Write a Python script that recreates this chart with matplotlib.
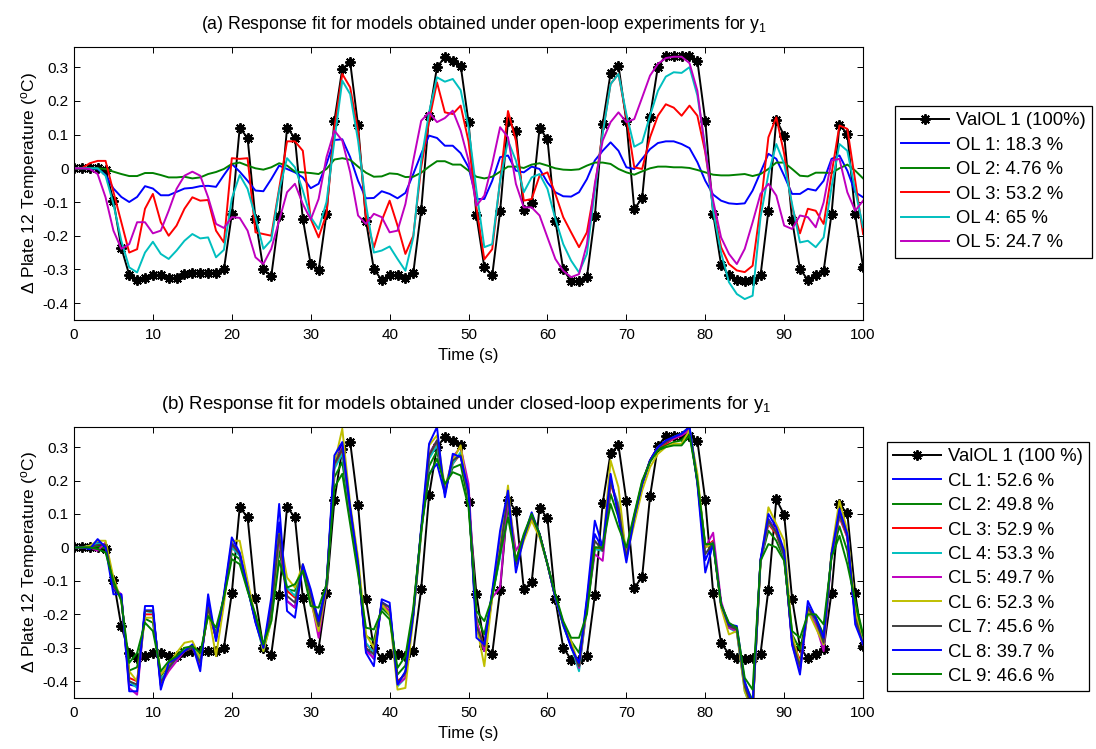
import numpy as np
import matplotlib
matplotlib.use("Agg")
import matplotlib.pyplot as plt

plt.rcParams['font.family'] = ['Liberation Sans', 'DejaVu Sans']
plt.rcParams['mathtext.default'] = 'regular'

time_s = np.arange(0, 101)

# measured validation run (ValOL 1)
val_ol1 = [0, 0, 0, 0, -0.005, -0.096, -0.236, -0.316, -0.331, -0.325,
           -0.316, -0.316, -0.325, -0.325, -0.313, -0.31, -0.31, -0.31, -0.31, -0.30,
           -0.137, 0.12, 0.09, -0.15, -0.30, -0.32, -0.143, 0.12, 0.09, -0.15,
           -0.285, -0.303, -0.135, 0.141, 0.295, 0.315, 0.127, -0.155, -0.30, -0.331,
           -0.318, -0.318, -0.325, -0.31, -0.124, 0.156, 0.30, 0.33, 0.318, 0.305,
           0.137, -0.14, -0.294, -0.318, -0.128, 0.141, 0.11, -0.124, -0.104, 0.119,
           0.087, -0.155, -0.30, -0.335, -0.335, -0.323, -0.143, 0.132, 0.282, 0.305,
           0.139, -0.121, -0.088, 0.153, 0.302, 0.334, 0.332, 0.332, 0.332, 0.318,
           0.141, -0.135, -0.286, -0.318, -0.331, -0.333, -0.331, -0.318, -0.126, 0.144,
           0.097, -0.153, -0.299, -0.331, -0.318, -0.304, -0.135, 0.129, 0.102, -0.137,
           -0.294]

# open-loop model responses
ol1 = [0, 0, 0, -0.002, -0.02, -0.06, -0.085, -0.1, -0.085, -0.053,
       -0.06, -0.08, -0.08, -0.07, -0.06, -0.058, -0.053, -0.052, -0.055, -0.02,
       0.013, -0.01, -0.037, -0.066, -0.068, -0.032, 0.008, -0.002, -0.012, -0.027,
       -0.059, -0.046, 0.013, 0.084, 0.086, 0.033, -0.037, -0.089, -0.088, -0.068,
       -0.076, -0.089, -0.073, -0.017, 0.043, 0.097, 0.09, 0.067, 0.067, 0.045,
       0.003, -0.091, -0.091, -0.037, 0.033, 0.038, -0.007, -0.012, 0.005, -0.002,
       -0.042, -0.071, -0.083, -0.084, -0.071, -0.032, 0.023, 0.052, 0.077, 0.052,
       0.003, -0.002, 0.028, 0.057, 0.075, 0.08, 0.08, 0.072, 0.06, 0.018,
       -0.037, -0.078, -0.096, -0.104, -0.106, -0.104, -0.066, -0.012, 0.043, 0.028,
       -0.022, -0.076, -0.076, -0.061, -0.066, -0.037, 0.028, 0.038, -0.007, -0.071,
       -0.086]
ol2 = [0, 0, 0, 0, -0.002, -0.01, -0.017, -0.023, -0.023, -0.014,
       -0.014, -0.02, -0.027, -0.027, -0.025, -0.03, -0.027, -0.017, -0.011, -0.002,
       0.013, 0.017, 0.008, 0.0, -0.004, 0.003, 0.015, 0.008, -0.01, -0.012,
       -0.014, -0.017, -0.002, 0.026, 0.03, 0.025, 0.005, -0.013, -0.025, -0.024,
       -0.015, -0.017, -0.026, -0.025, -0.013, 0.005, 0.021, 0.021, 0.011, 0.011,
       -0.007, -0.025, -0.03, -0.025, -0.01, 0.005, 0.005, 0.001, 0.011, 0.015,
       0.008, 0.0, -0.004, -0.005, -0.003, 0.008, 0.017, 0.017, 0.013, -0.002,
       -0.012, -0.019, -0.009, 0.0, 0.005, 0.005, 0.003, 0.003, 0.001, -0.005,
       -0.012, -0.019, -0.021, -0.021, -0.019, -0.017, -0.023, -0.017, -0.002, 0.017,
       0.017, -0.002, -0.022, -0.024, -0.013, -0.013, -0.014, 0.0, 0.011, -0.007,
       -0.03]
ol3 = [0, 0, 0.015, 0.022, 0.022, -0.07, -0.16, -0.25, -0.24, -0.12,
       -0.076, -0.16, -0.2, -0.17, -0.12, -0.086, -0.096, -0.094, -0.185, -0.22,
       0.03, 0.028, 0.03, -0.19, -0.195, -0.2, -0.06, 0.08, 0.08, 0.052,
       -0.15, -0.205, -0.135, 0.12, 0.28, 0.24, 0.11, -0.145, -0.235, -0.155,
       -0.096, -0.17, -0.254, -0.2, 0.003, 0.141, 0.255, 0.166, 0.161, 0.186,
       0.08, -0.116, -0.27, -0.24, -0.037, 0.17, 0.082, -0.096, -0.091, -0.022,
       -0.012, -0.076, -0.145, -0.19, -0.234, -0.19, -0.056, 0.107, 0.25, 0.28,
       0.151, 0.003, -0.002, 0.092, 0.156, 0.19, 0.18, 0.156, 0.186, 0.156,
       0.047, -0.116, -0.234, -0.284, -0.303, -0.308, -0.289, -0.116, 0.092, 0.151,
       0.043, -0.116, -0.193, -0.12, -0.126, -0.165, -0.017, 0.127, 0.117, -0.037,
       -0.195]
ol4 = [0, 0, 0, 0, -0.022, -0.106, -0.215, -0.294, -0.309, -0.25,
       -0.218, -0.254, -0.269, -0.244, -0.215, -0.195, -0.208, -0.205, -0.264, -0.242,
       -0.09, -0.02, -0.061, -0.145, -0.239, -0.213, -0.066, 0.03, 0.003, -0.066,
       -0.145, -0.18, -0.1, 0.082, 0.26, 0.22, 0.082, -0.106, -0.25, -0.244,
       -0.232, -0.269, -0.304, -0.205, 0.023, 0.166, 0.27, 0.257, 0.265, 0.232,
       0.12, -0.066, -0.234, -0.225, -0.037, 0.082, 0.023, -0.071, -0.027, -0.017,
       -0.061, -0.15, -0.225, -0.274, -0.309, -0.254, -0.066, 0.102, 0.25, 0.28,
       0.161, 0.064, 0.077, 0.156, 0.23, 0.272, 0.285, 0.283, 0.3, 0.216,
       0.062, -0.126, -0.25, -0.338, -0.373, -0.388, -0.378, -0.145, -0.017, 0.072,
       0.013, -0.106, -0.22, -0.215, -0.234, -0.205, -0.056, 0.072, 0.052, -0.066,
       -0.175]
ol5 = [0, 0, -0.002, -0.017, -0.086, -0.185, -0.239, -0.225, -0.16, -0.16,
       -0.193, -0.185, -0.126, -0.061, -0.022, -0.01, -0.022, -0.086, -0.165, -0.177,
       -0.145, -0.147, -0.185, -0.264, -0.284, -0.239, -0.155, -0.071, -0.046, -0.106,
       -0.152, -0.091, 0.033, 0.112, 0.082, -0.012, -0.14, -0.165, -0.135, -0.145,
       -0.19, -0.185, -0.106, 0.023, 0.141, 0.166, 0.137, 0.149, 0.171, 0.112,
       0.023, -0.111, -0.081, 0.013, 0.122, 0.092, -0.046, -0.116, -0.116, -0.14,
       -0.205, -0.269, -0.304, -0.323, -0.314, -0.225, -0.046, 0.082, 0.137, 0.166,
       0.137, 0.146, 0.21, 0.275, 0.31, 0.327, 0.331, 0.331, 0.312, 0.23,
       0.052, -0.096, -0.205, -0.254, -0.284, -0.239, -0.16, -0.076, -0.046, -0.081,
       -0.17, -0.18, -0.14, -0.145, -0.175, -0.101, 0.023, 0.028, -0.071, -0.126,
       -0.096]

# closed-loop model responses
cl1 = [0, 0, -0.003, 0.018, 0.005, -0.125, -0.145, -0.41, -0.415, -0.188,
       -0.188, -0.413, -0.353, -0.33, -0.31, -0.295, -0.355, -0.165, -0.275, -0.145,
       0.015, -0.018, -0.12, -0.22, -0.30, -0.175, 0.075, -0.16, -0.18, -0.055,
       -0.138, -0.23, -0.113, 0.258, 0.303, 0.115, -0.05, -0.303, -0.333, -0.163,
       -0.178, -0.405, -0.375, -0.20, 0.055, 0.22, 0.25, 0.16, 0.265, 0.275,
       0.16, -0.245, -0.295, -0.135, 0.015, 0.16, -0.058, 0.03, 0.098, 0.04,
       -0.05, -0.15, -0.23, -0.295, -0.353, -0.16, 0.04, -0.005, 0.205, 0.105,
       -0.033, 0.09, 0.19, 0.26, 0.30, 0.315, 0.328, 0.338, 0.358, 0.195,
       -0.038, 0.015, -0.17, -0.235, -0.243, -0.41, -0.48, -0.038, 0.085, 0.05,
       -0.02, -0.28, -0.36, -0.175, -0.215, -0.28, -0.02, 0.103, 0.035, -0.215,
       -0.29]
cl2 = [0, 0, 0, 0.003, -0.003, -0.105, -0.155, -0.368, -0.358, -0.213,
       -0.225, -0.385, -0.35, -0.328, -0.305, -0.298, -0.328, -0.198, -0.255, -0.15,
       -0.018, -0.035, -0.125, -0.208, -0.295, -0.21, -0.01, -0.125, -0.13, -0.065,
       -0.163, -0.21, -0.113, 0.21, 0.255, 0.09, -0.065, -0.265, -0.278, -0.18,
       -0.203, -0.38, -0.353, -0.19, 0.05, 0.243, 0.288, 0.18, 0.238, 0.248,
       0.135, -0.205, -0.26, -0.145, -0.02, 0.12, -0.04, 0.035, 0.095, 0.04,
       -0.05, -0.145, -0.225, -0.28, -0.315, -0.185, 0.0, -0.005, 0.16, 0.09,
       -0.01, 0.095, 0.195, 0.258, 0.295, 0.305, 0.315, 0.32, 0.345, 0.20,
       0.005, 0.015, -0.17, -0.233, -0.245, -0.405, -0.458, -0.04, 0.05, 0.02,
       -0.035, -0.26, -0.305, -0.195, -0.21, -0.26, -0.025, 0.063, -0.01, -0.18,
       -0.275]
cl3 = [0, 0, 0, 0.01, 0.01, -0.11, -0.15, -0.39, -0.40, -0.20,
       -0.20, -0.40, -0.36, -0.33, -0.31, -0.30, -0.34, -0.19, -0.27, -0.15,
       0.0, -0.02, -0.12, -0.215, -0.30, -0.20, 0.02, -0.13, -0.15, -0.06,
       -0.15, -0.24, -0.115, 0.24, 0.29, 0.11, -0.05, -0.29, -0.31, -0.17,
       -0.19, -0.40, -0.38, -0.20, 0.05, 0.27, 0.31, 0.17, 0.25, 0.28,
       0.15, -0.22, -0.30, -0.14, -0.02, 0.15, -0.04, 0.03, 0.09, 0.04,
       -0.05, -0.15, -0.23, -0.29, -0.36, -0.17, 0.0, -0.01, 0.19, 0.12,
       -0.02, 0.09, 0.19, 0.26, 0.30, 0.31, 0.325, 0.335, 0.355, 0.20,
       0.0, 0.02, -0.17, -0.24, -0.25, -0.42, -0.49, -0.04, 0.07, 0.04,
       -0.03, -0.27, -0.34, -0.19, -0.22, -0.29, -0.02, 0.09, 0.03, -0.20,
       -0.29]
cl4 = [0, 0, 0.005, 0.012, 0.008, -0.105, -0.15, -0.40, -0.42, -0.19,
       -0.195, -0.395, -0.365, -0.33, -0.305, -0.295, -0.335, -0.185, -0.265, -0.15,
       0.0, -0.025, -0.125, -0.22, -0.31, -0.22, 0.02, -0.12, -0.145, -0.06,
       -0.15, -0.245, -0.115, 0.235, 0.28, 0.105, -0.055, -0.285, -0.315, -0.17,
       -0.195, -0.415, -0.39, -0.205, 0.04, 0.265, 0.305, 0.17, 0.25, 0.285,
       0.15, -0.225, -0.31, -0.145, -0.03, 0.15, -0.045, 0.025, 0.09, 0.035,
       -0.05, -0.15, -0.235, -0.295, -0.37, -0.18, -0.005, -0.01, 0.195, 0.13,
       -0.025, 0.09, 0.19, 0.26, 0.30, 0.315, 0.33, 0.34, 0.36, 0.205,
       0.0, 0.015, -0.17, -0.24, -0.255, -0.43, -0.49, -0.045, 0.075, 0.045,
       -0.03, -0.275, -0.35, -0.195, -0.22, -0.30, -0.02, 0.095, 0.035, -0.2,
       -0.285]
cl5 = [0, 0, 0, -0.01, 0.015, -0.12, -0.14, -0.42, -0.44, -0.19,
       -0.19, -0.41, -0.37, -0.34, -0.31, -0.30, -0.35, -0.18, -0.27, -0.15,
       0.01, -0.02, -0.12, -0.22, -0.30, -0.20, 0.03, -0.16, -0.18, -0.06,
       -0.15, -0.27, -0.12, 0.25, 0.30, 0.11, -0.05, -0.31, -0.33, -0.17,
       -0.19, -0.41, -0.39, -0.20, 0.05, 0.28, 0.32, 0.17, 0.27, 0.30,
       0.19, -0.22, -0.31, -0.15, -0.12, 0.15, -0.01, 0.03, 0.09, 0.04,
       -0.05, -0.15, -0.23, -0.29, -0.36, -0.18, -0.02, -0.04, 0.20, 0.12,
       -0.02, 0.09, 0.19, 0.26, 0.30, 0.315, 0.325, 0.335, 0.35, 0.20,
       0.0, 0.044, -0.16, -0.24, -0.25, -0.42, -0.49, -0.04, 0.08, 0.05,
       -0.02, -0.29, -0.37, -0.19, -0.23, -0.31, -0.02, 0.10, 0.03, -0.21,
       -0.29]
cl6 = [0, 0, 0.005, 0.02, 0.02, -0.09, -0.16, -0.37, -0.40, -0.21,
       -0.21, -0.38, -0.35, -0.315, -0.285, -0.28, -0.33, -0.19, -0.325, -0.17,
       0.02, 0.02, -0.10, -0.21, -0.31, -0.22, 0.04, -0.09, -0.12, -0.05,
       -0.16, -0.25, -0.12, 0.25, 0.355, 0.13, -0.03, -0.26, -0.30, -0.17,
       -0.20, -0.425, -0.42, -0.21, 0.04, 0.305, 0.335, 0.18, 0.26, 0.305,
       0.15, -0.23, -0.355, -0.15, 0.0, 0.185, -0.055, 0.02, 0.08, 0.03,
       -0.05, -0.15, -0.23, -0.28, -0.355, -0.17, 0.0, 0.0, 0.26, 0.18,
       -0.03, 0.07, 0.17, 0.24, 0.28, 0.30, 0.31, 0.31, 0.35, 0.22,
       0.0, 0.01, -0.18, -0.26, -0.25, -0.43, -0.49, -0.05, 0.12, 0.07,
       0.02, -0.26, -0.35, -0.19, -0.24, -0.29, -0.01, 0.14, 0.05, -0.19,
       -0.29]
cl7 = [0, 0, 0, 0.008, 0.008, -0.115, -0.15, -0.40, -0.41, -0.19,
       -0.19, -0.405, -0.36, -0.33, -0.31, -0.30, -0.345, -0.18, -0.27, -0.15,
       0.01, -0.02, -0.12, -0.215, -0.30, -0.19, 0.04, -0.145, -0.165, -0.055,
       -0.145, -0.235, -0.115, 0.25, 0.295, 0.115, -0.05, -0.30, -0.32, -0.165,
       -0.18, -0.405, -0.375, -0.2, 0.05, 0.275, 0.32, 0.165, 0.26, 0.275,
       0.155, -0.235, -0.295, -0.135, -0.01, 0.155, -0.05, 0.03, 0.095, 0.04,
       -0.05, -0.15, -0.23, -0.295, -0.355, -0.165, 0.02, -0.01, 0.2, 0.115,
       -0.03, 0.09, 0.19, 0.26, 0.30, 0.315, 0.33, 0.34, 0.36, 0.195,
       -0.02, 0.015, -0.17, -0.235, -0.245, -0.415, -0.485, -0.04, 0.08, 0.045,
       -0.025, -0.28, -0.355, -0.18, -0.215, -0.285, -0.02, 0.10, 0.035, -0.21,
       -0.29]
cl8 = [0, 0, -0.005, 0.025, 0.0, -0.14, -0.14, -0.43, -0.43, -0.175,
       -0.175, -0.425, -0.345, -0.33, -0.31, -0.29, -0.37, -0.14, -0.28, -0.14,
       0.03, -0.015, -0.12, -0.225, -0.30, -0.15, 0.13, -0.19, -0.21, -0.05,
       -0.125, -0.22, -0.11, 0.275, 0.315, 0.12, -0.05, -0.315, -0.355, -0.155,
       -0.165, -0.41, -0.37, -0.20, 0.06, 0.31, 0.36, 0.15, 0.28, 0.27,
       0.17, -0.27, -0.29, -0.13, 0.05, 0.17, -0.075, 0.03, 0.105, 0.04,
       -0.05, -0.15, -0.23, -0.30, -0.345, -0.15, 0.08, 0.0, 0.22, 0.09,
       -0.045, 0.09, 0.19, 0.26, 0.30, 0.32, 0.33, 0.34, 0.36, 0.19,
       -0.075, 0.01, -0.17, -0.23, -0.235, -0.40, -0.47, -0.035, 0.10, 0.06,
       -0.01, -0.29, -0.38, -0.16, -0.21, -0.27, -0.02, 0.115, 0.04, -0.23,
       -0.29]
cl9 = [0, 0, 0, -0.005, -0.015, -0.10, -0.16, -0.345, -0.315, -0.225,
       -0.25, -0.37, -0.34, -0.325, -0.30, -0.295, -0.315, -0.205, -0.24, -0.15,
       -0.035, -0.05, -0.13, -0.20, -0.29, -0.22, -0.04, -0.12, -0.11, -0.07,
       -0.175, -0.18, -0.11, 0.18, 0.22, 0.07, -0.08, -0.24, -0.245, -0.19,
       -0.215, -0.36, -0.325, -0.18, 0.05, 0.215, 0.265, 0.19, 0.225, 0.215,
       0.12, -0.19, -0.22, -0.15, -0.02, 0.09, -0.04, 0.04, 0.10, 0.04,
       -0.05, -0.14, -0.22, -0.27, -0.27, -0.20, 0.0, 0.0, 0.13, 0.06,
       0.0, 0.10, 0.20, 0.255, 0.29, 0.30, 0.305, 0.305, 0.335, 0.20,
       0.01, 0.01, -0.17, -0.225, -0.24, -0.39, -0.425, -0.04, 0.01, 0.0,
       -0.04, -0.25, -0.27, -0.20, -0.20, -0.23, -0.03, 0.035, -0.05, -0.16,
       -0.26]

ol_labels = ['OL 1: 18.3 %', 'OL 2: 4.76 %', 'OL 3: 53.2 %', 'OL 4: 65 %', 'OL 5: 24.7 %']
cl_labels = ['CL 1: 52.6 %', 'CL 2: 49.8 %', 'CL 3: 52.9 %', 'CL 4: 53.3 %', 'CL 5: 49.7 %',
             'CL 6: 52.3 %', 'CL 7: 45.6 %', 'CL 8: 39.7 %', 'CL 9: 46.6 %']
ytick_vals = [-0.4, -0.3, -0.2, -0.1, 0, 0.1, 0.2, 0.3]
ytick_labels = ['-0.4', '-0.3', '-0.2', '-0.1', '0', '0.1', '0.2', '0.3']
xtick_vals = list(range(0, 101, 10))

line_colors = [(0, 0, 1), (0, 0.5, 0), (1, 0, 0), (0, 0.75, 0.75), (0.75, 0, 0.75),
               (0.75, 0.75, 0), (0.25, 0.25, 0.25)]

ASTERISK = (8, 2, 0)
LW = 1.4

fig = plt.figure(figsize=(10.96, 7.49), dpi=100)
ax_a = fig.add_axes([0.0675, 0.5728, 0.720, 0.3645])
ax_b = fig.add_axes([0.0675, 0.0681, 0.720, 0.3618])

label_font = ['Liberation Sans Narrow', 'Liberation Sans', 'DejaVu Sans']


def style_axes(ax, title, title_size, title_x):
    ax.set_xlim(0, 100)
    ax.set_ylim(-0.45, 0.36)
    ax.set_xticks(xtick_vals)
    ax.set_yticks(ytick_vals)
    ax.set_yticklabels(ytick_labels)
    ax.tick_params(direction='in', length=4, width=0.7, top=True, right=True,
                   labelsize=11, pad=4)
    ax.tick_params(axis='x', pad=6)
    for sp in ax.spines.values():
        sp.set_linewidth(0.8)
    ax.set_xlabel('Time (s)', fontsize=12, family=label_font, labelpad=4)
    ax.set_ylabel('\u0394 Plate 12 Temperature ($^{o}$C)', fontsize=12.5,
                  family=label_font, labelpad=2)
    ax.set_title(title, fontsize=title_size, family=label_font, pad=13,
                 x=title_x, ha='center')


def add_legend(ax, handles, labels, anchor):
    leg = ax.legend(handles, labels, loc='upper left', bbox_to_anchor=anchor,
                    bbox_transform=fig.transFigure, borderaxespad=0,
                    fancybox=False, edgecolor='black', framealpha=1,
                    fontsize=13.3, handlelength=2.55, handletextpad=0.4,
                    labelspacing=0.40, borderpad=0.35, numpoints=1)
    leg.get_frame().set_linewidth(0.9)
    return leg


# (a) open-loop models
ha = [ax_a.plot(time_s, val_ol1, color='black', lw=LW, marker=ASTERISK,
                markersize=7.5, markeredgewidth=1.4)[0]]
for series, col in zip([ol1, ol2, ol3, ol4, ol5], line_colors):
    ha.append(ax_a.plot(time_s, series, color=col, lw=LW)[0])
style_axes(ax_a, '(a) Response fit for models obtained under open-loop experiments for y$_1$',
           12.7, 0.519)
add_legend(ax_a, ha, ['ValOL 1 (100%)'] + ol_labels, (0.8166, 0.8585))

# (b) closed-loop models
cl_series = [cl1, cl2, cl3, cl4, cl5, cl6, cl7, cl8, cl9]
hb = [ax_b.plot(time_s, val_ol1, color='black', lw=LW, marker=ASTERISK,
                markersize=7.5, markeredgewidth=1.4)[0]]
for i, series in enumerate(cl_series):
    hb.append(ax_b.plot(time_s, series, color=line_colors[i % 7], lw=LW)[0])
style_axes(ax_b, '(b) Response fit for models obtained under closed-loop experiments for y$_1$',
           13.4, 0.497)
add_legend(ax_b, hb, ['ValOL 1 (100 %)'] + cl_labels, (0.8093, 0.4099))

fig.savefig('out.png', dpi=100)
